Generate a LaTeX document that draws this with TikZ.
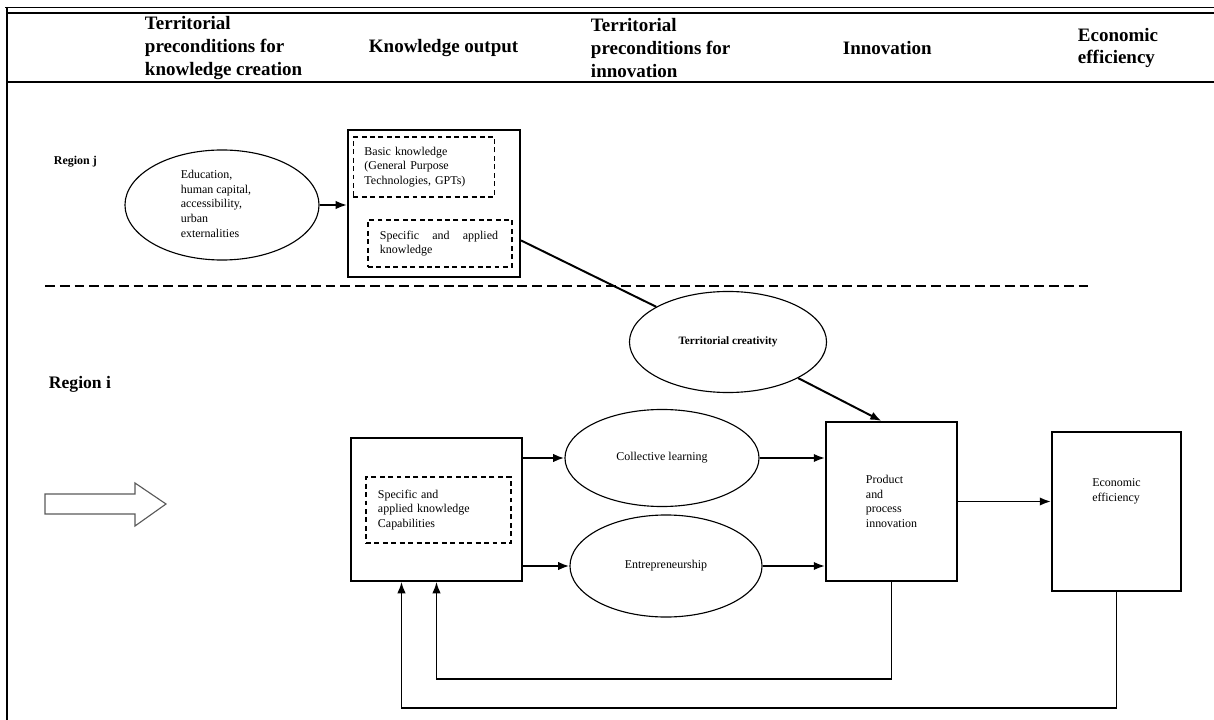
\documentclass[tikz,border=0pt]{standalone}
\usepackage{fontspec}
\setmainfont{Liberation Serif}
\usepackage{tikz}
\usetikzlibrary{shapes.geometric, arrows.meta}

\tikzset{
	box/.style = {draw, line width=1.4pt, inner sep=0pt, align=left},
	dbox/.style = {draw, dash pattern=on 3.5pt off 2.5pt, line width=1pt, align=left, inner ysep=0pt},
	oval/.style = {draw, ellipse, line width=0.8pt, inner sep=0pt, align=left},
	arr/.style = {-{Latex[length=8pt, width=6pt]}, line width=1.4pt},
	head/.style = {anchor=west, align=left, font=\fontsize{13.5}{16.3}\selectfont\bfseries},
}

\begin{document}
\begin{tikzpicture}[x=0.025cm, y=-0.025cm, font=\fontsize{8.5}{10.5}\selectfont]
						\useasboundingbox (0,0) rectangle (1214,720);
						\begin{scope}
							\draw [line width=0.7pt] (5,7) -- (1214,7);
							\draw [line width=2pt] (7,13) -- (1214,13);
							\draw [line width=2pt] (7,82) -- (1214,82);
							\draw [line width=1pt] (7,7) -- (7,720);
						\end{scope}
						\begin{scope}
							\node [head] (hpre) at (140,48) {Territorial\\preconditions for\\knowledge creation};
							\node [head] (hout) at (364,48) {Knowledge output};
							\node [head] (hinn) at (586,48) {Territorial\\preconditions for\\innovation};
							\node [head] (hinv) at (838,48) {Innovation};
							\node [head] (heco) at (1073,48) {Economic\\efficiency};
						\end{scope}
						\begin{scope}
							\node [anchor=west, font=\fontsize{8.5}{10.5}\selectfont\bfseries] (regj) at (49,162) {Region j};
							\node [anchor=west, font=\fontsize{12.5}{15}\selectfont\bfseries] (regi) at (44,384) {Region i};
							\draw [line width=1pt, dash pattern=on 7pt off 3.5pt] (45,286) -- (1090,286);
						\end{scope}
						\begin{scope}
							\node [oval, minimum width=4.85cm, minimum height=2.75cm] (edu) at (222,205) {\hspace*{-0.3cm}\begin{tabular}{@{}l@{}}Education,\\human capital,\\accessibility,\\urban\\externalities\end{tabular}};
							\node [box, minimum width=4.3cm, minimum height=3.675cm] (kj) at (434,203.5) {};
							\node [dbox, inner xsep=0.275cm, text width=2.975cm, minimum height=1.5cm] (basic) at (424,167) {Basic knowledge\\(General Purpose\\Technologies, GPTs)};
							\node [dbox, inner xsep=0.3cm, text width=3cm, minimum height=1.175cm] (specj) at (440,243.5) {\makebox[2.95cm][s]{Specific\hfill and\hfill applied}\\knowledge};
							\node [oval, minimum width=4.925cm, minimum height=2.525cm, font=\fontsize{8}{10}\selectfont\bfseries] (creat) at (728,342) {Territorial creativity};
						\end{scope}
						\begin{scope}
							\node [box, minimum width=4.275cm, minimum height=3.575cm] (ki) at (436.5,509.5) {};
							\node [dbox, inner xsep=0.3cm, text width=3.025cm, minimum height=1.65cm] (speci) at (438.5,510) {Specific and\\applied knowledge\\Capabilities};
							\node [oval, minimum width=4.85cm, minimum height=2.425cm] (coll) at (662,458) {Collective learning};
							\node [oval, minimum width=4.8cm, minimum height=2.55cm] (entre) at (666,566) {Entrepreneurship};
							\node [box, minimum width=3.275cm, minimum height=3.975cm] (prod) at (891.5,501.5) {Product\\and\\process\\innovation};
							\node [box, minimum width=3.225cm, minimum height=3.975cm] (econ) at (1116.5,511.5) {};
							\node [align=left] (econlbl) at ([yshift=0.5cm]econ.center) {Economic\\efficiency};
						\end{scope}
						\begin{scope}[arr]
							\draw (edu.east) -- (edu.east -| kj.west);
							\draw [-] (kj.-23) -- (creat);
							\draw (creat) -- ([xshift=-0.25cm]prod.north);
							\draw (ki.east |- coll.west) -- (coll.west);
							\draw (ki.east |- entre.west) -- (entre.west);
							\draw (coll.east) -- (coll.east -| prod.west);
							\draw (entre.east) -- (entre.east -| prod.west);
							\draw (prod.east) -- (prod.east -| econ.west);
							\draw [line width=1pt] (prod.south) -- ++(0,97) -| (ki.south);
							\draw [line width=1pt] (econ.south) -- ++(0,116) -| ([xshift=-0.875cm]ki.south);
						\end{scope}
						\draw [gray!70!black, line width=0.8pt] (45,494) -- (135,494) -- (135,483) -- (166,504) -- (135,526) -- (135,514) -- (45,514) -- cycle;
					\end{tikzpicture}
\end{document}
